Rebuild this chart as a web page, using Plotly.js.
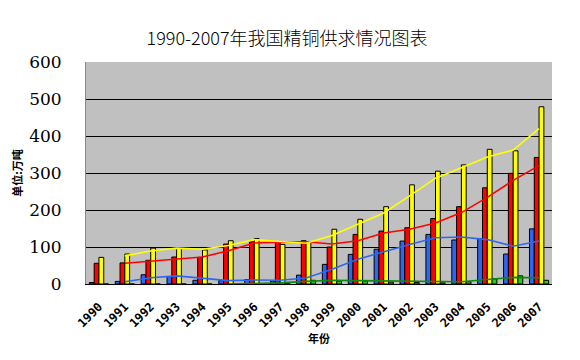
<!DOCTYPE html>
<html>
<head>
<meta charset="utf-8">
<script src="https://cdn.plot.ly/plotly-3.0.1.min.js"></script>
<style>html,body{margin:0;padding:0;background:#fff;}#chart{width:580px;height:360px;}</style>
</head>
<body>
<div id="chart"></div>
<script>
// Categories
var years = ['1990','1991','1992','1993','1994','1995','1996','1997','1998','1999','2000','2001','2002','2003','2004','2005','2006','2007'];
// Bar series (万吨)
var blueBars   = [4, 7, 25, 20, 10, 9, 12, 8, 24, 53, 80, 94, 116, 134, 119, 123, 81, 149];
var redBars    = [56, 57, 64, 73, 72, 108, 114, 112, 117, 100, 134, 143, 152, 177, 209, 260, 299, 342];
var yellowBars = [72, 81, 97, 96, 92, 117, 123, 107, 113, 148, 175, 209, 268, 305, 322, 364, 360, 479];
var greenBars  = [0, 0, 0, 0, 0, 0, 1, 2, 10, 8, 8, 5, 4, 3, 6, 14, 22, 10];
// Trend lines
var blueLine   = [null, 6, 17, 22, 16, 9, 11, 10, 16, 40, 67, 88, 107, 125, 127, 120, 102, 116];
var redLine    = [null, 56, 61, 68, 73, 90, 111, 113, 114, 108, 117, 138, 148, 165, 193, 234, 280, 320];
var yellowLine = [null, 76, 89, 97, 94, 104, 120, 115, 110, 131, 162, 192, 238, 286, 314, 343, 362, 420];
var greenLine  = [null, null, null, null, null, 0, 1, 3, 7, 10, 9, 8, 6, 5, 6, 12, 18, 17];
// Tick labels
var yTicks = [0, 100, 200, 300, 400, 500, 600];

function bar(y, color) {
  return {type: 'bar', x: years, y: y, marker: {color: color, line: {color: '#000', width: 1}},
          hoverinfo: 'x+y', showlegend: false};
}
function line(y, color) {
  return {type: 'scatter', mode: 'lines', x: years, y: y, line: {color: color, width: 1.6},
          connectgaps: false, showlegend: false, hoverinfo: 'x+y'};
}
var data = [
  bar(blueBars, '#2f66f0'),
  bar(redBars, '#ff0000'),
  bar(yellowBars, '#ffff00'),
  bar(greenBars, '#22cc22'),
  line(greenLine, '#118811'),
  line(blueLine, '#2f66f0'),
  line(redLine, '#ff0000'),
  line(yellowLine, '#ffff00')
];
var layout = {
  width: 580, height: 360,
  margin: {l: 86, r: 28, t: 62, b: 76},
  paper_bgcolor: '#ffffff',
  plot_bgcolor: '#c0c0c0',
  barmode: 'group',
  bargap: 0.26,
  bargroupgap: 0,
  title: {text: '1990-2007年我国精铜供求情况图表', x: 0.495, xanchor: 'center', y: 0.893, yanchor: 'middle',
          font: {family: 'Noto Sans CJK SC', size: 18, color: '#000', weight: 300}},
  xaxis: {
    type: 'category', tickangle: -45, ticks: '', showgrid: false,
    showline: true, linecolor: '#000', linewidth: 1, mirror: false,
    ticklabelstandoff: 10,
    tickfont: {family: 'DejaVu Sans Mono', size: 12, color: '#000', weight: 'bold'},
    title: {text: '年份', standoff: 6, font: {family: 'Noto Sans CJK SC', size: 11, color: '#000', weight: 'bold'}}
  },
  yaxis: {
    range: [0, 600], tickvals: yTicks, ticktext: yTicks.map(String), ticks: '',
    showgrid: true, gridcolor: '#000', gridwidth: 1, zeroline: false,
    showline: true, linecolor: '#888', linewidth: 1,
    tickfont: {family: 'DejaVu Serif', size: 17, color: '#000'},
    ticklabelstandoff: 20,
    title: {text: '单位:万吨', standoff: 4, font: {family: 'Noto Sans CJK SC', size: 11, color: '#000', weight: 'bold'}}
  }
};
Plotly.newPlot('chart', data, layout, {displayModeBar: false, staticPlot: true});
</script>
</body>
</html>
